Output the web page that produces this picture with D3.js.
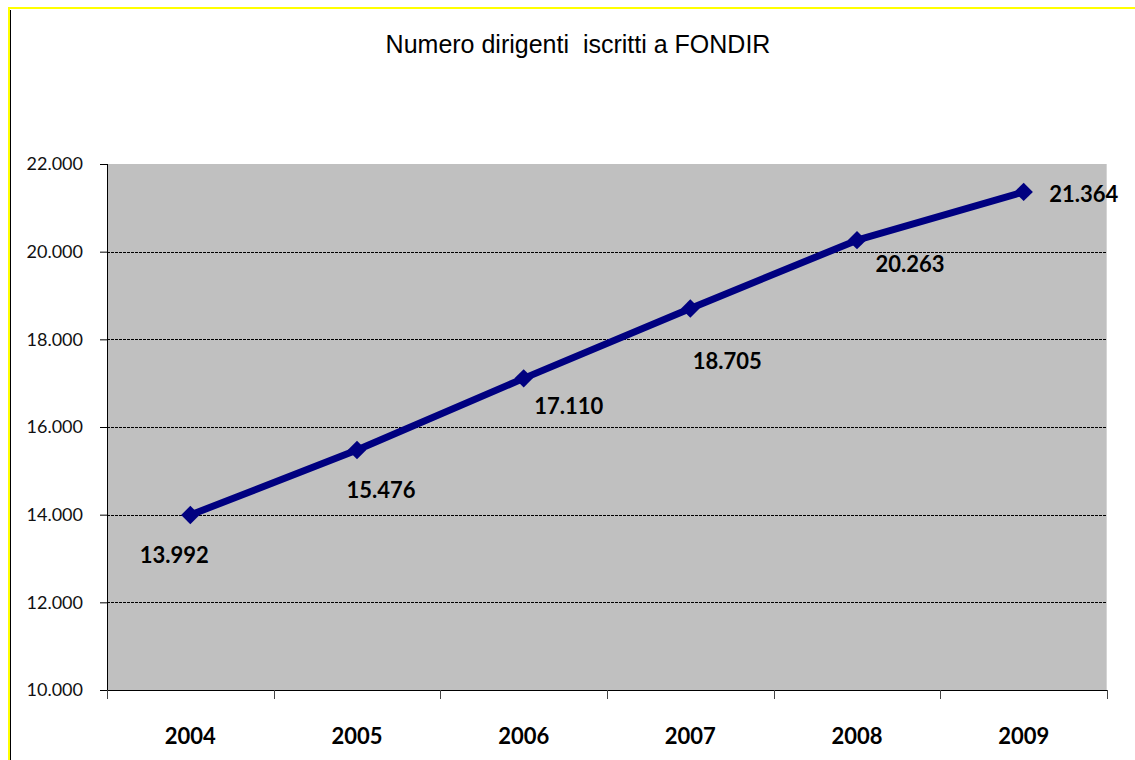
<!DOCTYPE html>
<html>
<head>
<meta charset="utf-8">
<script src="https://cdn.jsdelivr.net/npm/d3@7"></script>
<style>
  body { margin: 0; background: #fff; }
  svg { display: block; }
</style>
</head>
<body>
<div id="chart-area"></div>
<script>
// data
var years = ["2004", "2005", "2006", "2007", "2008", "2009"];
var iscritti = [13992, 15476, 17110, 18705, 20263, 21364];
var yTicks = [10000, 12000, 14000, 16000, 18000, 20000, 22000];
var titleText = "Numero dirigenti  iscritti a FONDIR";

// where each value label sits relative to its point (dx, dy to baseline)
var labelOffsets = [[-16, 48], [24, 48], [45, 36], [37, 61], [53, 32], [60, 10]];

var W = 1135, H = 760;
var margin = { left: 107, right: 28, top: 164, bottom: 70 };
var width = W - margin.left - margin.right,
    height = H - margin.top - margin.bottom;

var svg = d3.select("#chart-area")
    .append("svg")
        .attr("width", W)
        .attr("height", H);

// yellow frame (top + left) with dark inner line on the left
svg.append("line")
    .attr("x1", 8).attr("x2", W).attr("y1", 8).attr("y2", 8)
    .attr("stroke", "#ffff00").attr("stroke-width", 2);
svg.append("line")
    .attr("x1", 9).attr("x2", 9).attr("y1", 7).attr("y2", H)
    .attr("stroke", "#ffff00").attr("stroke-width", 2);
svg.append("line")
    .attr("x1", 10.5).attr("x2", 10.5).attr("y1", 10).attr("y2", H)
    .attr("stroke", "#000").attr("stroke-width", 1);

// title
svg.append("text")
    .attr("x", 578)
    .attr("y", 53)
    .attr("text-anchor", "middle")
    .attr("font-family", "'Liberation Sans', Arial, sans-serif")
    .attr("font-size", "25px")
    .attr("fill", "#000")
    .style("white-space", "pre")
    .text(titleText);

var g = svg.append("g")
    .attr("transform", "translate(" + margin.left + ", " + margin.top + ")");

// X Scale
var x = d3.scaleBand()
    .domain(years)
    .range([0, width]);

// Y Scale
var y = d3.scaleLinear()
    .domain([10000, 22000])
    .range([height, 0]);

// plot area
g.append("rect")
    .attr("width", width)
    .attr("height", height)
    .attr("fill", "#c0c0c0");
g.append("line")
    .attr("x1", width - 0.5).attr("x2", width - 0.5)
    .attr("y1", 0).attr("y2", height)
    .attr("stroke", "#d4d4d4");

// gridlines
g.selectAll(".grid")
    .data(yTicks.filter(function(d){ return d > 10000 && d < 22000; }))
    .enter().append("line")
        .attr("class", "grid")
        .attr("x1", 0).attr("x2", width)
        .attr("y1", function(d){ return Math.round(y(d)) + 0.5; })
        .attr("y2", function(d){ return Math.round(y(d)) + 0.5; })
        .attr("stroke", "#000")
        .attr("stroke-dasharray", "3,1");

// Y Axis
var yAxisCall = d3.axisLeft(y)
    .tickValues(yTicks)
    .tickSize(7)
    .tickPadding(17)
    .tickFormat(function(d){ return d3.format(",")(d).replace(/,/g, "."); });
var yAxisGroup = g.append("g")
    .attr("class", "y axis")
    .call(yAxisCall);
yAxisGroup.select(".domain").attr("stroke", "#000").attr("d", "M0.5,0V" + height);
yAxisGroup.selectAll("text")
    .attr("font-family", "Lato, 'Open Sans', sans-serif")
    .attr("font-size", "18px")
    .attr("fill", "#111");

// X Axis
var xAxisCall = d3.axisBottom(x)
    .tickSize(0)
    .tickPadding(38);
var xAxisGroup = g.append("g")
    .attr("class", "x axis")
    .attr("transform", "translate(0," + height + ")")
    .call(xAxisCall);
xAxisGroup.select(".domain").attr("stroke", "#000").attr("d", "M0,0.5H" + width);
xAxisGroup.selectAll("text")
    .attr("font-family", "Lato, 'Open Sans', sans-serif")
    .attr("font-weight", "bold")
    .attr("font-size", "22px")
    .attr("fill", "#000");

// category separators on the x axis
xAxisGroup.selectAll(".sep")
    .data(years.concat(["end"]))
    .enter().append("line")
        .attr("class", "sep")
        .attr("x1", function(d, i){ return Math.round(i * x.step()) + 0.5; })
        .attr("x2", function(d, i){ return Math.round(i * x.step()) + 0.5; })
        .attr("y1", 0).attr("y2", 9)
        .attr("stroke", "#444");

// line
var cx = function(i){ return x(years[i]) + x.bandwidth() / 2; };
var line = d3.line()
    .x(function(d, i){ return cx(i); })
    .y(function(d){ return y(d); });

g.append("path")
    .datum(iscritti)
    .attr("fill", "none")
    .attr("stroke", "#000080")
    .attr("stroke-width", 7)
    .attr("stroke-linejoin", "round")
    .attr("d", line);

// diamond markers
g.selectAll(".marker")
    .data(iscritti)
    .enter().append("path")
        .attr("class", "marker")
        .attr("d", d3.symbol().type(d3.symbolSquare).size(170))
        .attr("transform", function(d, i){
            return "translate(" + cx(i) + "," + y(d) + ") rotate(45)";
        })
        .attr("fill", "#000080");

// value labels
g.selectAll(".value")
    .data(iscritti)
    .enter().append("text")
        .attr("class", "value")
        .attr("x", function(d, i){ return cx(i) + labelOffsets[i][0]; })
        .attr("y", function(d, i){ return y(d) + labelOffsets[i][1]; })
        .attr("text-anchor", "middle")
        .attr("font-family", "Lato, 'Open Sans', sans-serif")
        .attr("font-weight", "bold")
        .attr("font-size", "22px")
        .attr("fill", "#000")
        .text(function(d){ return d3.format(",")(d).replace(/,/g, "."); });
</script>
</body>
</html>
